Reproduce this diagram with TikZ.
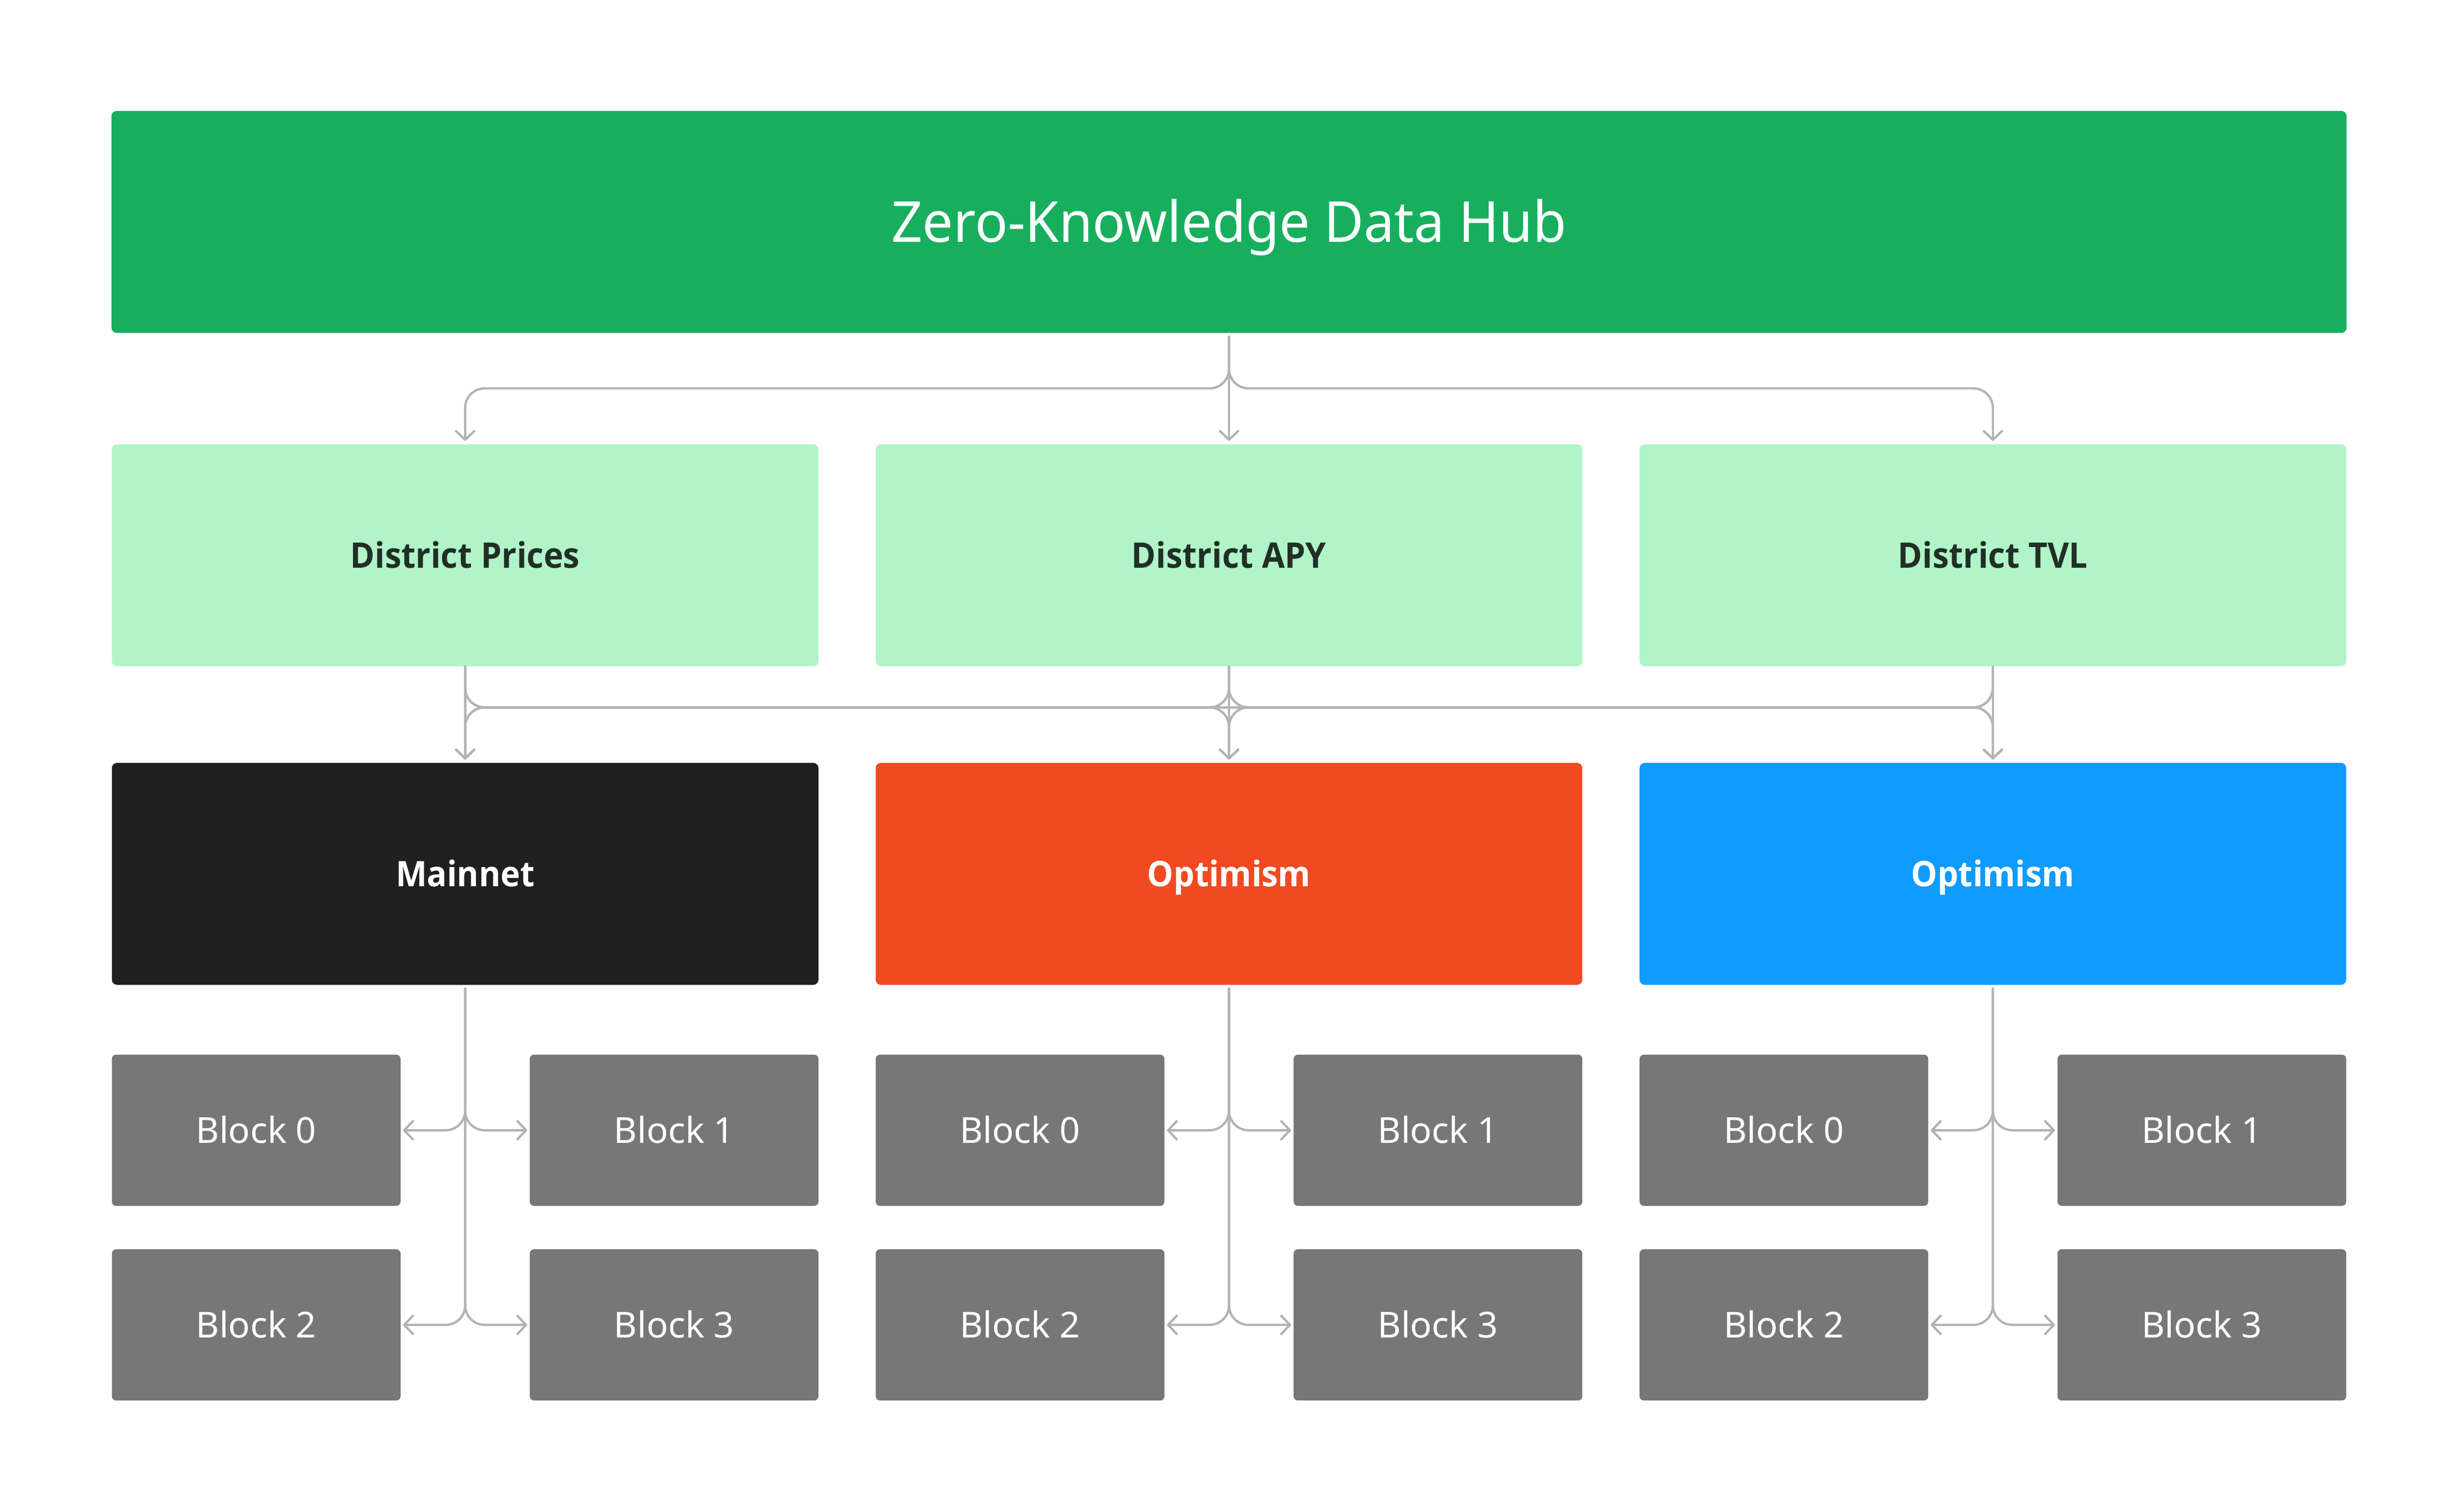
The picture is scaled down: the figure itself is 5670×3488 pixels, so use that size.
\documentclass[tikz,border=0pt]{standalone}
\usepackage{fontspec}
\setmainfont{Noto Sans}
\newfontfamily\boldfam{Open Sans}
\usetikzlibrary{arrows.meta}
\definecolor{hubgreen}{HTML}{17AF5E}
\definecolor{lightgreen}{HTML}{B0F4C8}
\definecolor{darktext}{HTML}{212F27}
\definecolor{mainblack}{HTML}{202020}
\definecolor{optorange}{HTML}{F04A23}
\definecolor{optblue}{HTML}{0F9BFF}
\definecolor{blockgray}{HTML}{777777}
\definecolor{conngray}{HTML}{B3B3B3}
\begin{document}
\begin{tikzpicture}[x=0.25pt,y=-0.25pt,
  bigbox/.style={rectangle, rounded corners=3pt, inner sep=0pt, minimum width=407.5pt, minimum height=128pt},
  hubbox/.style={rectangle, rounded corners=3pt, inner sep=0pt, minimum width=1289pt, minimum height=128pt,
    fill=hubgreen, text=white, font=\fontsize{32.6pt}{36pt}\selectfont, text height=23.25pt, text depth=0pt},
  distbox/.style={bigbox, fill=lightgreen, text=darktext, font=\boldfam\bfseries\fontsize{20.3pt}{24pt}\selectfont, text height=14.5pt, text depth=0pt},
  chainbox/.style={bigbox, text=white, font=\boldfam\bfseries\fontsize{20.3pt}{24pt}\selectfont, text height=14.5pt, text depth=0pt},
  blockbox/.style={rectangle, rounded corners=2.5pt, inner sep=0pt, minimum width=166.5pt, minimum height=87.25pt,
    fill=blockgray, text=white, font=\fontsize{20.66pt}{24pt}\selectfont, text height=14.75pt, text depth=0pt},
  conn/.style={draw=conngray, line width=1.33pt, line cap=round, line join=round, rounded corners=11.25pt,
    -{Straight Barb[length=5pt,width=10.5pt,round]}}
]
\useasboundingbox (0,0) rectangle (5670,3488);

% top hub
\node[hubbox] (hub) at (2835,512) {\scalebox{0.964}[1]{Zero-Knowledge Data Hub}};

% district row
\node[distbox] (prices) at (1073,1281) {\scalebox{0.94}[1]{District Prices}};
\node[distbox] (apy) at (2835,1281) {\scalebox{0.94}[1]{District APY}};
\node[distbox] (tvl) at (4597,1281) {\scalebox{0.94}[1]{District TVL}};

% chain row
\node[chainbox, fill=mainblack] (main) at (1073,2016) {\scalebox{0.94}[1]{Mainnet}};
\node[chainbox, fill=optorange] (opt) at (2835,2016) {\scalebox{0.94}[1]{Optimism}};
\node[chainbox, fill=optblue] (opb) at (4597,2016) {\scalebox{0.94}[1]{Optimism}};

% blocks
\node[blockbox] (m0) at (591,2607.5) {Block 0};
\node[blockbox] (m1) at (1555,2607.5) {Block 1};
\node[blockbox] (m2) at (591,3056.5) {Block 2};
\node[blockbox] (m3) at (1555,3056.5) {Block 3};

\node[blockbox] (o0) at (2353,2607.5) {Block 0};
\node[blockbox] (o1) at (3317,2607.5) {Block 1};
\node[blockbox] (o2) at (2353,3056.5) {Block 2};
\node[blockbox] (o3) at (3317,3056.5) {Block 3};

\node[blockbox] (b0) at (4115,2607.5) {Block 0};
\node[blockbox] (b1) at (5079,2607.5) {Block 1};
\node[blockbox] (b2) at (4115,3056.5) {Block 2};
\node[blockbox] (b3) at (5079,3056.5) {Block 3};

\coordinate (bus1) at (2835,896);
\coordinate (bus2) at (2835,1632);

% hub to districts
\draw[conn, shorten <=2pt, shorten >=1.75pt] (hub.south) -- (apy.north);
\draw[conn, shorten <=2pt, shorten >=1.75pt] (hub.south) -- (hub.south |- bus1) -| (prices.north);
\draw[conn, shorten <=2pt, shorten >=1.75pt] (hub.south) -- (hub.south |- bus1) -| (tvl.north);

% districts to chains
\draw[conn, shorten >=1.75pt] (prices.south) -- (main.north);
\draw[conn, shorten >=1.75pt] (prices.south) -- (prices.south |- bus2) -| (opt.north);
\draw[conn, shorten >=1.75pt] (prices.south) -- (prices.south |- bus2) -| (opb.north);
\draw[conn, shorten >=1.75pt] (apy.south) -- (apy.south |- bus2) -| (main.north);
\draw[conn, shorten >=1.75pt] (apy.south) -- (opt.north);
\draw[conn, shorten >=1.75pt] (apy.south) -- (apy.south |- bus2) -| (opb.north);
\draw[conn, shorten >=1.75pt] (tvl.south) -- (tvl.south |- bus2) -| (main.north);
\draw[conn, shorten >=1.75pt] (tvl.south) -- (tvl.south |- bus2) -| (opt.north);
\draw[conn, shorten >=1.75pt] (tvl.south) -- (opb.north);

% chains to blocks
\foreach \c/\a/\b/\d/\e in {main/m0/m1/m2/m3, opt/o0/o1/o2/o3, opb/b0/b1/b2/b3}{
  \draw[conn, shorten <=2pt, shorten >=1.25pt] (\c.south) |- (\a.east);
  \draw[conn, shorten <=2pt, shorten >=1.25pt] (\c.south) |- (\b.west);
  \draw[conn, shorten <=2pt, shorten >=1.25pt] (\c.south) |- (\d.east);
  \draw[conn, shorten <=2pt, shorten >=1.25pt] (\c.south) |- (\e.west);
}
\end{tikzpicture}
\end{document}
